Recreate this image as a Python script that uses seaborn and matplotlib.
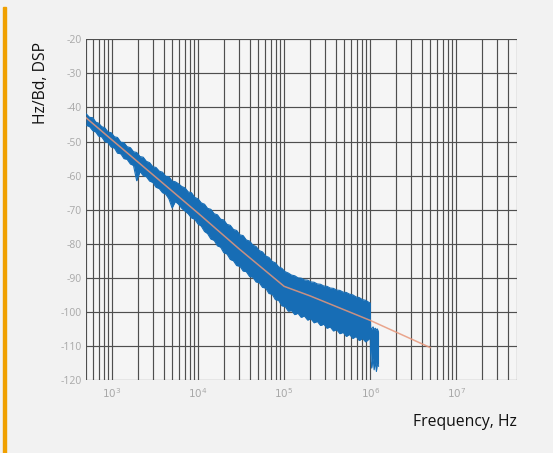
import numpy as np
import pandas as pd
import matplotlib
matplotlib.use("Agg")
import matplotlib.pyplot as plt
import seaborn as sns
from matplotlib.ticker import FixedLocator, LogLocator, NullFormatter
from matplotlib.patches import Rectangle

# ---------------- data ----------------
# fitted trend (orange)
fit_freq = [500, 1000, 10000, 30000, 100000, 200000, 1000000, 5000000]
fit_db = [-43.0, -49.5, -71.0, -81.5, -92.5, -95.3, -102.5, -110.5]

# measured noisy spectrum (blue): upper / lower envelope of the trace
blue_freq = [500, 550, 600, 650, 700, 760, 830, 900, 980, 1070, 1160, 1270, 1380,
             1500, 1640, 1780, 1940, 2120, 2310, 2510, 2740, 2990, 3250, 3550,
             3870, 4210, 4590, 5000, 5450, 5940, 6480, 7060, 7700, 8390, 9150,
             10000, 10900, 11900, 12900, 14100, 15400, 16800, 18300, 19900,
             21700, 23700, 25800, 28100, 30700, 33400, 36400, 39700, 43300,
             47200, 51400, 56100, 61100, 66600, 72600, 79200, 86300, 94100,
             102600, 111900, 121900, 132900, 144900, 157900, 172100, 187600,
             204500, 222900, 243000, 264900, 288800, 314800, 343100, 374000,
             407600, 444300, 484400, 528000, 575500, 627300, 683800, 745400,
             812600, 885700, 965400, 1000000, 1010000, 1040000, 1080000,
             1110000, 1150000, 1180000, 1210000, 1250000]
blue_upper = [-41.8, -42.9, -43.0, -44.3, -44.6, -45.6, -46.0, -47.2, -47.4, -48.6,
              -48.8, -50.2, -50.3, -51.5, -51.8, -53.0, -53.2, -54.4, -54.6, -55.8,
              -56.2, -57.4, -57.6, -58.7, -59.0, -60.2, -60.3, -61.6, -61.8, -62.4,
              -63.2, -63.6, -64.8, -65.0, -66.4, -66.8, -68.0, -68.4, -69.6, -69.9,
              -71.2, -71.5, -72.8, -73.0, -74.3, -74.6, -75.8, -76.1, -77.4, -77.6,
              -78.9, -79.2, -80.4, -80.8, -82.0, -82.4, -83.6, -84.0, -85.2, -85.6,
              -86.8, -87.2, -88.2, -88.6, -89.2, -89.4, -90.0, -90.1, -90.6, -90.7,
              -91.2, -91.3, -91.8, -91.9, -92.4, -92.5, -93.0, -93.1, -93.6, -93.7,
              -94.2, -94.3, -94.8, -95.0, -95.6, -95.8, -96.4, -96.6, -97.2, -97.4,
              -104.6, -105.0, -104.4, -105.2, -104.8, -105.4, -105.0, -106.0]
blue_lower = [-45.2, -45.6, -46.8, -47.2, -48.4, -48.6, -50.0, -50.3, -51.6, -51.9,
              -53.4, -53.6, -55.0, -55.2, -56.6, -57.0, -61.5, -58.8, -60.0, -60.3,
              -61.6, -62.0, -63.4, -63.8, -65.0, -65.4, -66.8, -69.5, -67.6, -68.4,
              -69.6, -70.4, -71.2, -72.4, -72.8, -74.2, -74.8, -76.4, -77.0, -78.6,
              -79.0, -80.6, -81.0, -82.6, -83.0, -84.6, -85.0, -86.4, -86.6, -88.0,
              -88.2, -89.6, -89.8, -91.2, -91.4, -92.8, -93.0, -94.6, -94.8, -96.4,
              -96.6, -98.2, -98.4, -99.8, -99.6, -100.8, -100.4, -101.6, -101.2,
              -102.4, -102.0, -103.2, -102.8, -104.0, -103.6, -104.8, -104.4,
              -105.6, -105.2, -106.4, -106.0, -107.2, -106.6, -107.8, -107.2,
              -108.4, -107.8, -108.8, -108.0, -107.6, -112.0, -116.5, -113.5,
              -117.0, -114.5, -117.5, -115.0, -116.0]

x_ticks = [1e3, 1e4, 1e5, 1e6, 1e7]
x_tick_labels = ["$10^{3}$", "$10^{4}$", "$10^{5}$", "$10^{6}$", "$10^{7}$"]
y_ticks = [-120, -110, -100, -90, -80, -70, -60, -50, -40, -30, -20]

# ---------------- styling ----------------
sns.set_theme(style="white")
plt.rcParams['font.family'] = ['Open Sans', 'DejaVu Sans']

BG = "#f2f2f2"
BLUE = "#176db5"
ORANGE = "#e8977a"
GRID = "#4f4f4f"

fig = plt.figure(figsize=(5.53, 4.53), dpi=100, facecolor=BG)
ax = fig.add_axes([0.1555, 0.1611, 0.7785, 0.752])
ax.set_facecolor("#f5f5f5")

blue_df = pd.DataFrame({"freq": blue_freq, "upper": blue_upper, "lower": blue_lower})
fit_df = pd.DataFrame({"freq": fit_freq, "db": fit_db})

ax.fill_between(blue_df["freq"], blue_df["lower"], blue_df["upper"],
                color=BLUE, lw=0, zorder=3)
sns.lineplot(data=blue_df, x="freq", y="upper", ax=ax, color=BLUE, lw=0.8, zorder=3)
sns.lineplot(data=blue_df, x="freq", y="lower", ax=ax, color=BLUE, lw=0.8, zorder=3)
sns.lineplot(data=fit_df, x="freq", y="db", ax=ax, color=ORANGE, lw=1.1,
             alpha=0.85, zorder=4)

ax.set_xscale("log")
ax.set_xlim(500, 5e7)
ax.set_ylim(-120, -20)

ax.xaxis.set_major_locator(FixedLocator(x_ticks))
ax.set_xticklabels(x_tick_labels)
ax.xaxis.set_minor_locator(LogLocator(base=10, subs=[2, 3, 4, 5, 6, 7, 8, 9], numticks=20))
ax.xaxis.set_minor_formatter(NullFormatter())
ax.set_yticks(y_ticks)
ax.set_yticklabels([str(v) for v in y_ticks])

ax.set_axisbelow(True)
ax.grid(which="both", axis="x", color=GRID, lw=0.85)
ax.grid(which="major", axis="y", color=GRID, lw=0.85)

ax.tick_params(axis="both", which="both", length=0, labelsize=7.5, labelcolor="#a8a8a8")
ax.tick_params(axis="x", pad=5)
ax.tick_params(axis="y", pad=3)
for s in ax.spines.values():
    s.set_visible(False)

ax.set_xlabel("")
ax.set_ylabel("")
fig.text(0.075, 0.818, "Hz/Bd, DSP", rotation=90, ha="center", va="center",
         fontsize=11.3, color="#111111")
fig.text(0.934, 0.0695, "Frequency, Hz", ha="right", va="center",
         fontsize=11.3, color="#111111")

fig.patches.append(Rectangle((3 / 553, 0), 3 / 553, 1 - 7 / 453,
                             transform=fig.transFigure, color="#f0a000", zorder=5))

fig.savefig("out.png", dpi=100, facecolor=BG)
